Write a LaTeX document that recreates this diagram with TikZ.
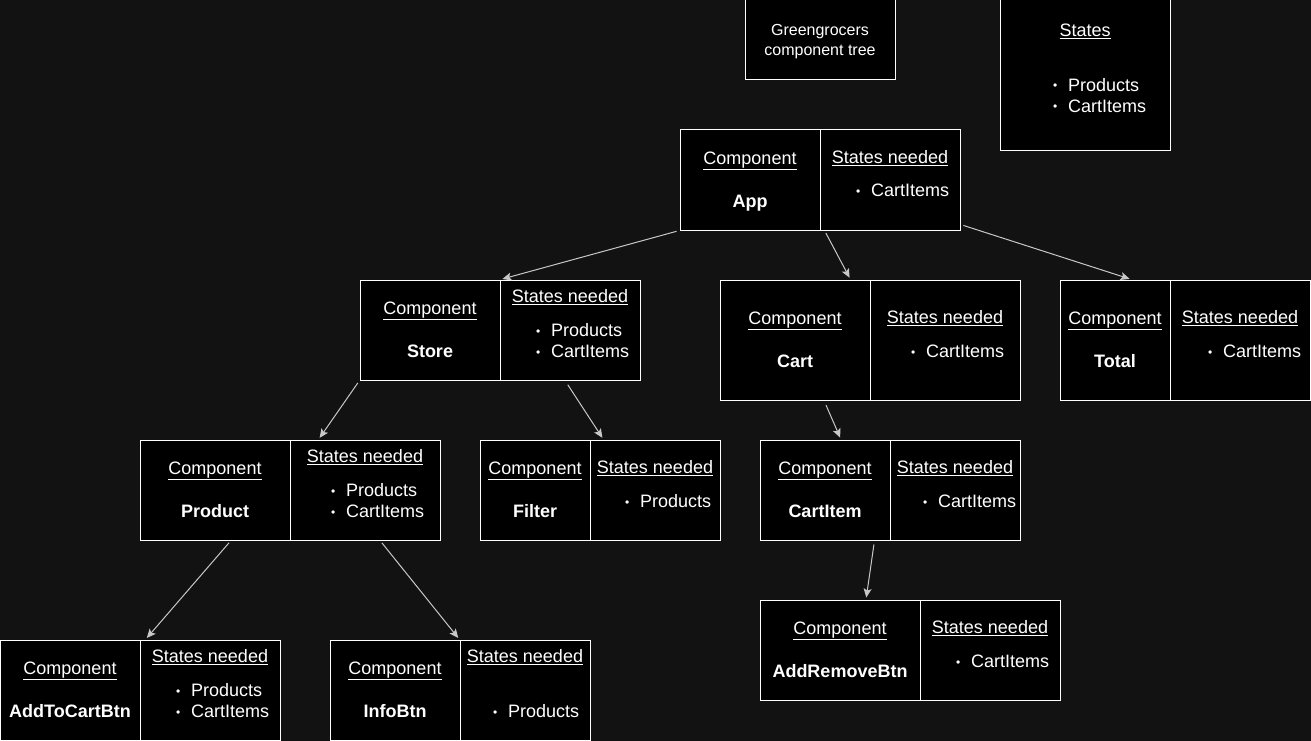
\documentclass[tikz,border=0pt]{standalone}
\usepackage{fontspec}
\setmainfont{Liberation Sans}
\usetikzlibrary{arrows.meta}

\definecolor{bgdark}{HTML}{121212}
\definecolor{linkgray}{HTML}{C8C8C8}

\newcommand\bul{\raisebox{1.5pt}{\fontsize{12}{12}\selectfont\textbullet}\hspace{10.8pt}}

\tikzset{
  cell/.style={draw=white, fill=black, line width=1pt, inner sep=0pt},
  txt/.style={inner sep=0pt, text=white, font=\fontsize{18}{21}\selectfont, text height=16pt, text depth=3pt},
  smalltxt/.style={txt, font=\fontsize{16}{20}\selectfont, text height=14pt, text depth=2.6pt},
  stitem/.style={txt, anchor=west},
  link/.style={draw=linkgray, line width=1pt, -{Stealth[length=9pt, width=8pt, inset=2pt]},
    shorten <=3pt, shorten >=2pt}
}

\begin{document}
\begin{tikzpicture}[x=1pt, y=-1pt]

\fill[bgdark] (0,0) rectangle (1311,741);
\useasboundingbox (0,0) rectangle (1311,741);

% title and states
\node[cell, minimum width=150, minimum height=80] (title) at (820,40) {};
\node[smalltxt] at (820,30) {Greengrocers};
\node[smalltxt] at (820,50) {component tree};
\node[cell, minimum width=170, minimum height=150] (states) at (1085,75) {};
\node[txt] (statesH) at (1085,30) {\underline{States}};
\node[stitem] at (1053,85) {\bul Products};
\node[stitem] at (1053,106) {\bul CartItems};

% App
\node[cell, minimum width=140, minimum height=100] (appC) at (750,180) {};
\node[cell, minimum width=140, minimum height=100] (appS) at (890,180) {};
\node[txt] at (750,158) {\underline{Component}};
\node[txt] at (750,201) {\textbf{App}};
\node[txt] at (890,157) {\underline{States needed}};
\node[stitem] at (856,190) {\bul CartItems};

% Store
\node[cell, minimum width=140, minimum height=100] (storeC) at (430,330) {};
\node[cell, minimum width=140, minimum height=100] (storeS) at (570,330) {};
\node[txt] at (430,308) {\underline{Component}};
\node[txt] at (430,351) {\textbf{Store}};
\node[txt] at (570,296) {\underline{States needed}};
\node[stitem] at (536,330) {\bul Products};
\node[stitem] at (536,351) {\bul CartItems};

% Cart
\node[cell, minimum width=150, minimum height=120] (cartC) at (795,340) {};
\node[cell, minimum width=150, minimum height=120] (cartS) at (945,340) {};
\node[txt] at (795,318) {\underline{Component}};
\node[txt] at (795,361) {\textbf{Cart}};
\node[txt] at (945,317) {\underline{States needed}};
\node[stitem] at (911,351) {\bul CartItems};

% Total
\node[cell, minimum width=110, minimum height=120] (totalC) at (1115,340) {};
\node[cell, minimum width=140, minimum height=120] (totalS) at (1240,340) {};
\node[txt] at (1115,318) {\underline{Component}};
\node[txt] at (1115,361) {\textbf{Total}};
\node[txt] at (1240,317) {\underline{States needed}};
\node[stitem] at (1208,351) {\bul CartItems};

% Product
\node[cell, minimum width=150, minimum height=100] (productC) at (215,490) {};
\node[cell, minimum width=150, minimum height=100] (productS) at (365,490) {};
\node[txt] at (215,468) {\underline{Component}};
\node[txt] at (215,511) {\textbf{Product}};
\node[txt] at (365,456) {\underline{States needed}};
\node[stitem] at (331,490) {\bul Products};
\node[stitem] at (331,511) {\bul CartItems};

% Filter
\node[cell, minimum width=110, minimum height=100] (filterC) at (535,490) {};
\node[cell, minimum width=130, minimum height=100] (filterS) at (655,490) {};
\node[txt] at (535,468) {\underline{Component}};
\node[txt] at (535,511) {\textbf{Filter}};
\node[txt] at (655,467) {\underline{States needed}};
\node[stitem] at (625,501) {\bul Products};

% CartItem
\node[cell, minimum width=130, minimum height=100] (cartItemC) at (825,490) {};
\node[cell, minimum width=130, minimum height=100] (cartItemS) at (955,490) {};
\node[txt] at (825,468) {\underline{Component}};
\node[txt] at (825,511) {\textbf{CartItem}};
\node[txt] at (955,467) {\underline{States needed}};
\node[stitem] at (923,501) {\bul CartItems};

% AddRemoveBtn
\node[cell, minimum width=160, minimum height=100] (addRemoveC) at (840,650) {};
\node[cell, minimum width=140, minimum height=100] (addRemoveS) at (990,650) {};
\node[txt] at (840,628) {\underline{Component}};
\node[txt] at (840,671) {\textbf{AddRemoveBtn}};
\node[txt] at (990,627) {\underline{States needed}};
\node[stitem] at (956,661) {\bul CartItems};

% AddToCartBtn
\node[cell, minimum width=140, minimum height=100] (addToCartC) at (70,690) {};
\node[cell, minimum width=140, minimum height=100] (addToCartS) at (210,690) {};
\node[txt] at (70,668) {\underline{Component}};
\node[txt] at (70,711) {\textbf{AddToCartBtn}};
\node[txt] at (210,656) {\underline{States needed}};
\node[stitem] at (176,690) {\bul Products};
\node[stitem] at (176,711) {\bul CartItems};

% InfoBtn
\node[cell, minimum width=130, minimum height=100] (infoC) at (395,690) {};
\node[cell, minimum width=130, minimum height=100] (infoS) at (525,690) {};
\node[txt] at (395,668) {\underline{Component}};
\node[txt] at (395,711) {\textbf{InfoBtn}};
\node[txt] at (525,656) {\underline{States needed}};
\node[stitem] at (493,711) {\bul Products};

% links
\draw[link] (appC.south west) -- (storeC.north east);
\draw[link] ([xshift=4]appC.south east) -- ([xshift=-20]cartC.north east);
\draw[link] ([yshift=6]appS.south east) -- ([xshift=-39]totalC.north east);
\draw[link] (storeC.south west) -- ([xshift=29]productS.north west);
\draw[link, shorten <=5pt] ([xshift=-5]storeS.south) -- ([xshift=14]filterS.north west);
\draw[link, shorten <=5pt] ([xshift=29]cartC.south) -- ([xshift=16]cartItemC.north);
\draw[link] ([xshift=16]productC.south) -- ([xshift=6]addToCartS.north west);
\draw[link] ([xshift=15]productS.south) -- (infoS.north west);
\draw[link, shorten <=4pt] ([xshift=-16]cartItemC.south east) -- ([xshift=26]addRemoveC.north);

\end{tikzpicture}
\end{document}
